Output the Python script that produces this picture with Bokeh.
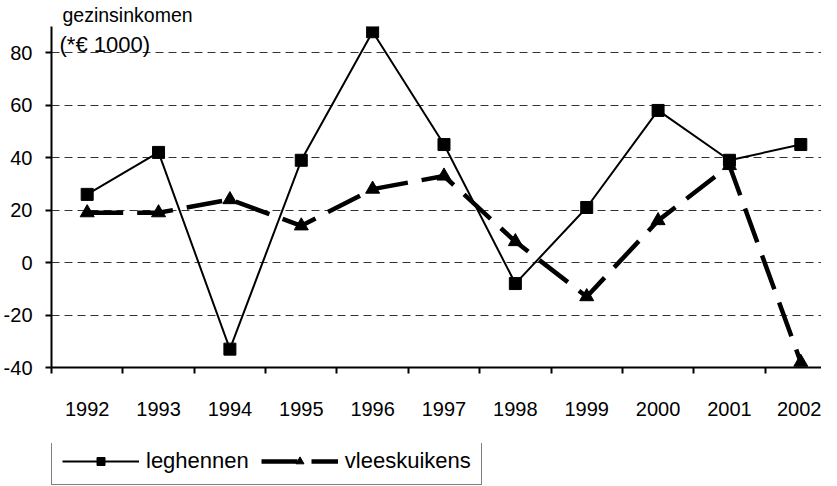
from bokeh.plotting import figure
from bokeh.layouts import column
from bokeh.models import (FixedTicker, Range1d, Legend, LegendItem, Label, ColumnDataSource)
from bokeh.embed import file_html
from bokeh.resources import INLINE

years = ["1992", "1993", "1994", "1995", "1996", "1997", "1998", "1999", "2000", "2001", "2002"]
leghennen = [26, 42, -33, 39, 88, 45, -8, 21, 58, 39, 45]
vleeskuikens = [19, 19, 24, 14, 28, 33, 8, -13, 16, 37, -38]
y_ticks = [-40, -20, 0, 20, 40, 60, 80]
y_title_1 = "gezinsinkomen"
y_title_2 = "(*€ 1000)"
series_names = ["leghennen", "vleeskuikens"]

FONT = "Liberation Sans"
FS = "20px"

xpos = list(range(len(years)))
src = ColumnDataSource(dict(x=xpos, leg=leghennen, vlk=vleeskuikens))

# ---------------- main chart ----------------
p = figure(width=821, height=443, output_backend="svg", toolbar_location=None,
           x_range=Range1d(-0.5, 10.29), y_range=Range1d(-40, 90),
           min_border_left=48, min_border_right=0, min_border_top=26, min_border_bottom=76)
p.outline_line_color = None
p.background_fill_color = "white"
p.border_fill_color = "white"

p.title.text = y_title_1
p.title.align = "left"
p.title.offset = 11
p.title.standoff = 2
p.title.text_font = FONT
p.title.text_font_size = "19.5px"
p.title.text_font_style = "normal"
p.title.text_color = "black"

p.xaxis.ticker = FixedTicker(ticks=xpos, minor_ticks=[i - 0.5 for i in range(len(years) + 1)])
p.xaxis.major_label_overrides = {i: y for i, y in enumerate(years)}
p.xaxis.major_tick_out = 0
p.xaxis.major_tick_in = 0
p.xaxis.minor_tick_out = 6
p.xaxis.minor_tick_in = 0
p.xaxis.minor_tick_line_width = 2
p.xaxis.major_label_standoff = 28
p.yaxis.ticker = FixedTicker(ticks=y_ticks)
p.yaxis.major_label_overrides = {t: str(t) for t in y_ticks}
p.yaxis.major_tick_out = 6
p.yaxis.major_tick_in = 0
p.yaxis.minor_tick_line_color = None
p.yaxis.major_label_standoff = 13
for ax in (p.xaxis, p.yaxis):
    ax.axis_line_width = 2
    ax.axis_line_color = "black"
    ax.major_tick_line_width = 2
    ax.major_tick_line_color = "black"
    ax.major_label_text_font = FONT
    ax.major_label_text_font_size = FS
    ax.major_label_text_color = "black"

p.xgrid.grid_line_color = None
p.ygrid.grid_line_color = "#333333"
p.ygrid.grid_line_dash = "8 5"
p.ygrid.grid_line_width = 1

LINE1 = dict(line_color="black", line_width=2)
MARK1 = dict(marker="square", size=12, fill_color="black", line_color="black")
LINE2 = dict(line_color="black", line_width=4.5, line_dash="36 14")
MARK2 = dict(marker="triangle", size=14, fill_color="black", line_color="black")

p.line("x", "leg", source=src, **LINE1)
p.scatter("x", "leg", source=src, **MARK1)
p.line("x", "vlk", source=src, **LINE2)
p.scatter("x", "vlk", source=src, **MARK2)

p.add_layout(Label(x=-0.5, y=90, x_offset=8, y_offset=-18, text=y_title_2,
                   text_font=FONT, text_font_size="22px", text_color="black", text_baseline="alphabetic"))

# ---------------- legend strip ----------------
p2 = figure(width=821, height=45, output_backend="svg", toolbar_location=None,
            x_axis_type=None, y_axis_type=None,
            x_range=Range1d(100, 101), y_range=Range1d(1000, 1001), min_border=0)
p2.outline_line_color = None
p2.background_fill_color = "white"
p2.border_fill_color = "white"
# same series, drawn in this strip only to feed the legend (outside its visible range)
ll1 = p2.line("x", "leg", source=src, **LINE1)
ls1 = p2.scatter("x", "leg", source=src, **MARK1)
ll2 = p2.line("x", "vlk", source=src, **LINE2)
ls2 = p2.scatter("x", "vlk", source=src, **MARK2)

legend = Legend(items=[LegendItem(label=series_names[0], renderers=[ll1, ls1]),
                       LegendItem(label=series_names[1], renderers=[ll2, ls2])],
                orientation="horizontal", location=(0, 3),
                glyph_width=77, glyph_height=20, label_standoff=7, spacing=12, padding=10, margin=0,
                border_line_color="black", border_line_width=1.5,
                label_text_font=FONT, label_text_font_size="22px", label_text_color="black",
                background_fill_color="white", background_fill_alpha=1)
p2.add_layout(legend, "center")

layout = column(p, p2, spacing=0)
open("out.html", "w").write(file_html(layout, INLINE))
